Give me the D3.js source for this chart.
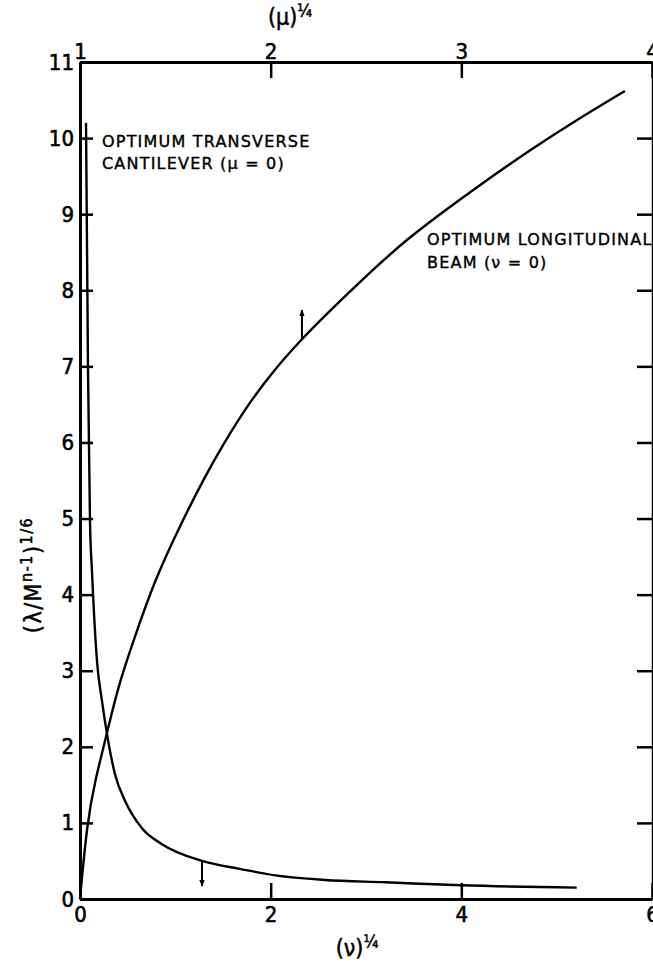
<!DOCTYPE html>
<html>
<head>
<meta charset="utf-8">
<script src="https://cdn.jsdelivr.net/npm/d3@7"></script>
<style>
  body { margin: 0; background: #fff; }
  svg { display: block; }
</style>
</head>
<body>
<svg width="653" height="965"></svg>
<script>
// transverse cantilever, plotted against bottom axis (nu)^1/4
const nuCant  = [0.063, 0.084, 0.105, 0.126, 0.178, 0.231, 0.283, 0.367, 0.472, 0.65, 0.86, 1.28, 1.70, 2.05, 2.57, 3.2, 4.0, 5.21]
const lamCant = [10.2, 6.95, 4.95, 4.3, 3.13, 2.6, 2.17, 1.64, 1.29, 0.93, 0.72, 0.5, 0.39, 0.31, 0.25, 0.22, 0.18, 0.15]

// longitudinal beam, plotted against top axis (mu)^1/4
const muLong  = [1.0, 1.037, 1.079, 1.142, 1.199, 1.288, 1.393, 1.535, 1.655, 1.745, 1.881, 2.023, 2.164, 2.269, 2.547, 2.730, 2.888, 3.061, 3.375, 3.606, 3.858]
const lamLong = [0, 1.0, 1.56, 2.18, 2.79, 3.45, 4.2, 4.96, 5.55, 5.95, 6.5, 6.97, 7.36, 7.63, 8.30, 8.70, 9.0, 9.32, 9.87, 10.24, 10.62]

// tick labels
const yTicks     = d3.range(0, 12)
const rightTicks = d3.range(1, 11)
const nuTicks    = [0, 2, 4, 6]
const muTicks    = [1, 2, 3, 4]

// direction arrows: where they sit on each curve and where they point to
const arrowX    = [2.164, 1.28]
const arrowFrom = [7.36, 0.5]
const arrowTo   = [7.74, 0.17]

const svg = d3.select('svg')
const m = { left: 80, right: 652, top: 62, bottom: 899 }

const x = d3.scaleLinear().domain([0, 6]).range([m.left, m.right])
const xTop = d3.scaleLinear().domain([1, 4]).range([m.left, m.right])
const y = d3.scaleLinear().domain([0, 11]).range([m.bottom, m.top])

const digits = '"DejaVu Sans Condensed", "DejaVu Sans", sans-serif'
const letters = '"DejaVu Sans", sans-serif'

svg.append('defs').append('marker')
    .attr('id', 'head')
    .attr('viewBox', '0 0 10 10')
    .attr('refX', 9).attr('refY', 5)
    .attr('markerWidth', 7).attr('markerHeight', 9)
    .attr('markerUnits', 'userSpaceOnUse')
    .attr('orient', 'auto')
  .append('path')
    .attr('d', 'M0,1 L10,5 L0,9 Z')
    .attr('fill', '#000')

// axes
function styleAxis(g) {
  g.select('.domain').attr('stroke-width', 3).attr('stroke', '#000')
  g.selectAll('.tick line').attr('stroke-width', 2.5).attr('stroke', '#000')
  g.selectAll('.tick text')
    .style('font-family', digits).style('font-size', '22px')
    .attr('fill', '#000').attr('stroke', '#000').attr('stroke-width', 0.6)
}

svg.append('g')
    .attr('transform', `translate(${m.left},0)`)
    .call(d3.axisLeft(y).tickValues(yTicks).tickFormat(d3.format('d')).tickSize(-13).tickSizeOuter(0).tickPadding(6))
    .call(styleAxis)

svg.append('g')
    .attr('transform', `translate(${m.right},0)`)
    .call(d3.axisRight(y).tickValues(rightTicks).tickSize(-15).tickSizeOuter(0).tickFormat(''))
    .call(g => { styleAxis(g); g.select('.domain').attr('stroke-width', 1.5) })

svg.append('g')
    .attr('transform', `translate(0,${m.bottom})`)
    .call(d3.axisBottom(x).tickValues(nuTicks).tickFormat(d3.format('d')).tickSize(-16).tickSizeOuter(0).tickPadding(7))
    .call(styleAxis)

svg.append('g')
    .attr('transform', `translate(0,${m.top})`)
    .call(d3.axisTop(xTop).tickValues(muTicks).tickFormat(d3.format('d')).tickSize(-16).tickSizeOuter(0).tickPadding(3))
    .call(styleAxis)

// curves
const cant = nuCant.map((v, i) => [v, lamCant[i]])
const long = muLong.map((v, i) => [v, lamLong[i]])

svg.append('path')
    .datum(cant)
    .attr('fill', 'none').attr('stroke', '#000').attr('stroke-width', 2.4)
    .attr('d', d3.line().x(d => x(d[0])).y(d => y(d[1])).curve(d3.curveMonotoneX))

svg.append('path')
    .datum(long)
    .attr('fill', 'none').attr('stroke', '#000').attr('stroke-width', 2.4)
    .attr('d', d3.line().x(d => xTop(d[0])).y(d => y(d[1])).curve(d3.curveBasis))

// arrows (first one belongs to the top scale, second to the bottom one)
const scalesFor = [xTop, x]
arrowX.forEach((ax, i) => {
  svg.append('line')
      .attr('x1', scalesFor[i](ax)).attr('x2', scalesFor[i](ax))
      .attr('y1', y(arrowFrom[i])).attr('y2', y(arrowTo[i]))
      .attr('stroke', '#000').attr('stroke-width', 2)
      .attr('marker-end', 'url(#head)')
})

// annotations
const note = svg.append('g')
    .style('font-family', letters).style('font-size', '16px')
    .attr('letter-spacing', 1.2)
    .attr('stroke', '#000').attr('stroke-width', 0.4)
note.append('text').attr('x', 102).attr('y', 147).text('OPTIMUM TRANSVERSE')
note.append('text').attr('x', 102).attr('y', 169).text('CANTILEVER (\u03bc = 0)')
note.append('text').attr('x', 427).attr('y', 245).text('OPTIMUM LONGITUDINAL')
note.append('text').attr('x', 427).attr('y', 268).text('BEAM (\u03bd = 0)')

// axis titles
function title(tx, ty, rot) {
  return svg.append('text')
      .attr('transform', `translate(${tx},${ty})` + (rot ? ` rotate(${rot})` : ''))
      .attr('text-anchor', 'middle')
      .style('font-family', digits).style('font-size', '23px')
      .attr('stroke', '#000').attr('stroke-width', 0.5)
}

const topTitle = title(290, 25)
topTitle.append('tspan').text('(\u03bc)')
topTitle.append('tspan').style('font-size', '17px').attr('dy', -8).text('\u00bc')

const botTitle = title(357, 956)
botTitle.append('tspan').text('(\u03bd)')
botTitle.append('tspan').style('font-size', '17px').attr('dy', -8).text('\u00bc')

const yTitle = title(41, 575, -90).attr('letter-spacing', 1.5)
yTitle.append('tspan').text('(\u03bb/M')
yTitle.append('tspan').style('font-size', '16px').attr('dy', -9).text('n-1')
yTitle.append('tspan').attr('dy', 9).text(')')
yTitle.append('tspan').style('font-size', '16px').attr('dy', -9).text('1/6')
</script>
</body>
</html>
